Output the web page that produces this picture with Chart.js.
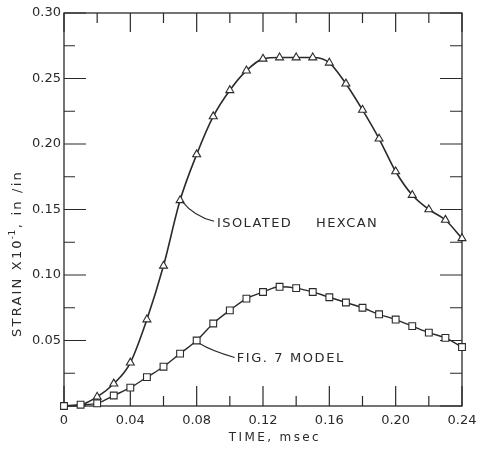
<!DOCTYPE html>
<html><head><meta charset="utf-8">
<script src="https://cdn.jsdelivr.net/npm/chart.js@4"></script>
<style>html,body{margin:0;padding:0;background:#fff}#wrap{width:497px;height:451px;position:relative}canvas{display:block}</style>
</head><body><div id="wrap"><canvas id="c" width="497" height="451" style="width:497px;height:451px"></canvas></div>
<script>
const timeMsec = [0,0.01,0.02,0.03,0.04,0.05,0.06,0.07,0.08,0.09,0.10,0.11,0.12,0.13,0.14,0.15,0.16,0.17,0.18,0.19,0.20,0.21,0.22,0.23,0.24];
const hexcanStrain = [0.000,0.001,0.007,0.017,0.033,0.066,0.107,0.157,0.192,0.221,0.241,0.256,0.265,0.266,0.266,0.266,0.262,0.246,0.226,0.204,0.179,0.161,0.150,0.142,0.128];
const hexcanMarker = [false,false,true,true,true,true,true,true,true,true,true,true,true,true,true,true,true,true,true,true,true,true,true,true,true];
const modelStrain = [0.000,0.001,0.002,0.008,0.014,0.022,0.030,0.040,0.050,0.063,0.073,0.082,0.087,0.091,0.090,0.087,0.083,0.079,0.075,0.070,0.066,0.061,0.056,0.052,0.045];
const xTickValues = [0,0.04,0.08,0.12,0.16,0.20,0.24];
const xTickLabels = ['0','0.04','0.08','0.12','0.16','0.20','0.24'];
const yTickValues = [0,0.05,0.10,0.15,0.20,0.25,0.30];
const yTickLabels = ['','0.05','0.10','0.15','0.20','0.25','0.30'];
const xMinorStep = 0.02, yMinorStep = 0.025;
const hexcanLabel = ['ISOLATED','HEXCAN'];
const modelLabel = 'FIG. 7 MODEL';
const xTitle = 'TIME, msec';
const yTitleParts = ['STRAIN X10','-1',', in /in'];

const INK = '#2a2a2a';
const FONT = '"DejaVu Sans", sans-serif';

const decor = {
  id: 'decor',
  beforeDatasetsDraw(chart) {
    const {ctx, chartArea: a, scales: {x, y}} = chart;
    ctx.save();
    ctx.strokeStyle = INK;
    ctx.lineWidth = 1.3;
    ctx.strokeRect(a.left, a.top, a.right - a.left, a.bottom - a.top);
    ctx.lineWidth = 1.2;
    ctx.beginPath();
    const nx = Math.round((x.max - x.min) / xMinorStep);
    for (let i = 0; i <= nx; i++) {
      const v = x.min + i * xMinorStep;
      const px = x.getPixelForValue(v);
      const major = i % 2 === 0;
      ctx.moveTo(px, a.bottom); ctx.lineTo(px, a.bottom - (major ? 20 : 10));
      ctx.moveTo(px, a.top); ctx.lineTo(px, a.top + (major ? 19 : 10));
    }
    const ny = Math.round((y.max - y.min) / yMinorStep);
    for (let i = 0; i <= ny; i++) {
      const v = y.min + i * yMinorStep;
      const py = y.getPixelForValue(v);
      const major = i % 2 === 0;
      ctx.moveTo(a.left, py); ctx.lineTo(a.left + (major ? 22 : 11), py);
      ctx.moveTo(a.right, py); ctx.lineTo(a.right - (major ? 22 : 12), py);
    }
    ctx.stroke();
    ctx.restore();
  },
  afterDatasetsDraw(chart) {
    const {ctx, chartArea: a, scales: {x, y}} = chart;
    ctx.save();
    ctx.fillStyle = INK;
    ctx.strokeStyle = INK;
    ctx.textBaseline = 'middle';
    // x title
    ctx.font = '12px ' + FONT;
    ctx.letterSpacing = '2.4px';
    ctx.textAlign = 'center';
    ctx.fillText(xTitle, a.left + (a.right - a.left) * 0.53, a.bottom + 32);
    // y title
    ctx.save();
    ctx.translate(18, (a.top + a.bottom) / 2 + 44);
    ctx.rotate(-Math.PI / 2);
    ctx.textAlign = 'left';
    ctx.font = '13px ' + FONT;
    ctx.letterSpacing = '2.2px';
    const w0 = ctx.measureText(yTitleParts[0]).width;
    ctx.font = '9px ' + FONT;
    ctx.letterSpacing = '0.5px';
    const w1 = ctx.measureText(yTitleParts[1]).width;
    ctx.font = '13px ' + FONT;
    ctx.letterSpacing = '2.2px';
    const w2 = ctx.measureText(yTitleParts[2]).width;
    const sx = -(w0 + w1 + w2) / 2;
    ctx.fillText(yTitleParts[0], sx, 0);
    ctx.font = '9px ' + FONT; ctx.letterSpacing = '0.5px';
    ctx.fillText(yTitleParts[1], sx + w0 - 1, -5);
    ctx.font = '13px ' + FONT; ctx.letterSpacing = '2.2px';
    ctx.fillText(yTitleParts[2], sx + w0 + w1, 0);
    ctx.restore();

    // annotations
    ctx.lineWidth = 1.1;
    const hx = x.getPixelForValue(timeMsec[7]), hy = y.getPixelForValue(hexcanStrain[7]);
    ctx.beginPath();
    ctx.moveTo(hx + 2, hy + 1);
    ctx.quadraticCurveTo(hx + 14, hy + 16, hx + 34, hy + 21);
    ctx.stroke();
    ctx.font = '13px ' + FONT;
    ctx.letterSpacing = '1.4px';
    ctx.textAlign = 'left';
    ctx.fillText(hexcanLabel[0], hx + 37, hy + 23);
    ctx.fillText(hexcanLabel[1], hx + 136, hy + 23);

    const mx = x.getPixelForValue(timeMsec[8]), my = y.getPixelForValue(modelStrain[8]);
    ctx.beginPath();
    ctx.moveTo(mx + 3, my + 3);
    ctx.quadraticCurveTo(mx + 14, my + 10, mx + 38, my + 17);
    ctx.stroke();
    ctx.letterSpacing = '1.6px';
    ctx.fillText(modelLabel, mx + 40, my + 18);
    ctx.restore();
  }
};

const mk = (vals) => timeMsec.map((t, i) => ({x: t, y: vals[i]}));

new Chart(document.getElementById('c'), {
  type: 'line',
  data: {
    datasets: [
      {
        label: 'Isolated hexcan',
        data: mk(hexcanStrain),
        borderColor: INK, borderWidth: 1.6,
        pointStyle: 'triangle',
        pointRadius: hexcanMarker.map(m => m ? 4.6 : 0),
        pointBackgroundColor: '#fff', pointBorderColor: INK, pointBorderWidth: 1.1,
        cubicInterpolationMode: 'monotone',
        clip: false, order: 2
      },
      {
        label: 'Fig. 7 model',
        data: mk(modelStrain),
        borderColor: INK, borderWidth: 1.4,
        pointStyle: 'rect',
        pointRadius: 4.8,
        pointBackgroundColor: '#fff', pointBorderColor: INK, pointBorderWidth: 1.1,
        cubicInterpolationMode: 'monotone',
        clip: false, order: 1
      }
    ]
  },
  options: {
    responsive: false,
    animation: false,
    devicePixelRatio: 1,
    layout: {padding: {top: 13, right: 35, left: 0, bottom: 0}},
    plugins: {legend: {display: false}, tooltip: {enabled: false}},
    scales: {
      x: {
        type: 'linear', min: 0, max: 0.24,
        grid: {display: false, drawTicks: false},
        border: {display: false},
        afterFit: s => { s.height = 45; },
        afterBuildTicks: s => { s.ticks = xTickValues.map(v => ({value: v})); },
        ticks: {
          padding: 7, color: INK, maxRotation: 0, autoSkip: false,
          font: {family: '"DejaVu Sans"', size: 13},
          callback: (v, i) => xTickLabels[i]
        }
      },
      y: {
        type: 'linear', min: 0, max: 0.30,
        grid: {display: false, drawTicks: false},
        border: {display: false},
        afterFit: s => { s.width = 64; },
        afterBuildTicks: s => { s.ticks = yTickValues.map(v => ({value: v})); },
        ticks: {
          padding: 3, color: INK, autoSkip: false,
          font: {family: '"DejaVu Sans"', size: 13},
          callback: (v, i) => yTickLabels[i]
        }
      }
    }
  },
  plugins: [decor]
});
</script></body></html>
